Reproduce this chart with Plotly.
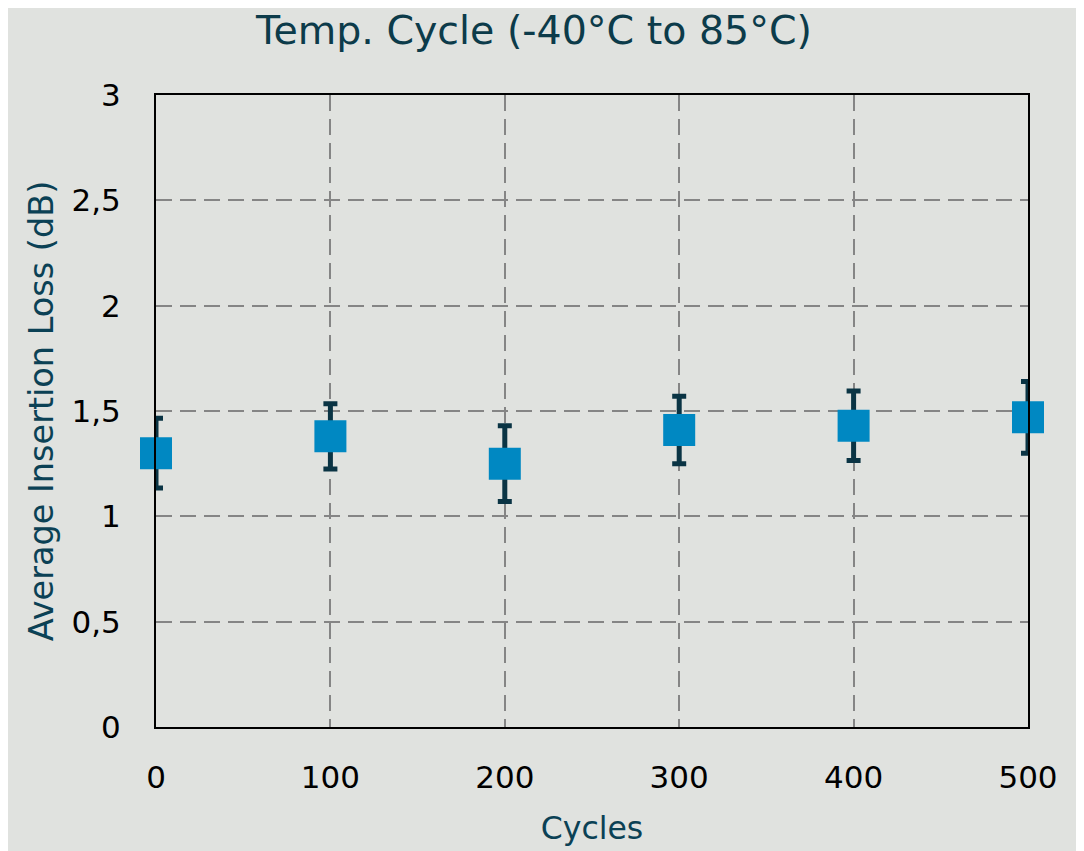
import plotly.graph_objects as go

cycles = [0, 100, 200, 300, 400, 500]
avg_loss = [1.30, 1.38, 1.25, 1.41, 1.43, 1.47]
err_up = [0.165, 0.155, 0.18, 0.16, 0.165, 0.17]
err_down = [0.165, 0.155, 0.18, 0.16, 0.165, 0.17]

y_ticks = [0, 0.5, 1, 1.5, 2, 2.5, 3]
y_tick_text = ["0", "0,5", "1", "1,5", "2", "2,5", "3"]
x_ticks = [0, 100, 200, 300, 400, 500]

font_family = "DejaVu Sans"

fig = go.Figure()
fig.add_trace(go.Scatter(
    x=cycles, y=avg_loss, mode="markers",
    marker=dict(symbol="square", size=32, color="#0088c2",
                line=dict(width=0)),
    error_y=dict(type="data", symmetric=False, array=err_up,
                 arrayminus=err_down, color="#0a3444", thickness=5, width=7),
    cliponaxis=False, showlegend=False,
))

fig.update_layout(
    width=1084, height=851,
    paper_bgcolor="#e0e2df", plot_bgcolor="#e0e2df",
    margin=dict(l=148, r=64, t=87, b=132),
    font=dict(family=font_family, color="black"),
    title=dict(text="Temp. Cycle (-40°C to 85°C)", x=526 / 1084,
               xref="container", xanchor="center", y=1 - 22 / 851,
               yref="container", yanchor="middle",
               font=dict(size=39.5, color="#0c3b4a", family=font_family)),
)
fig.update_xaxes(
    range=[0, 500], tickvals=x_ticks, ticks="", ticklabelstandoff=22,
    tickfont=dict(size=31, color="black"),
    showline=True, linecolor="black", linewidth=2, mirror=True,
    showgrid=True, gridcolor="#858585", gridwidth=2, griddash="16px,8px",
    zeroline=False,
    title=dict(text="Cycles", standoff=23,
               font=dict(size=31.5, color="#0b4155")),
)
fig.update_yaxes(
    range=[0, 3], tickvals=y_ticks, ticktext=y_tick_text, ticks="",
    ticklabelstandoff=27,
    tickfont=dict(size=31, color="black"),
    showline=True, linecolor="black", linewidth=2, mirror=True,
    showgrid=True, gridcolor="#858585", gridwidth=2, griddash="16px,8px",
    zeroline=False,
    title=dict(text="Average Insertion Loss (dB)", standoff=8,
               font=dict(size=33.5, color="#0b4155")),
)

fig.write_html("out.html")
